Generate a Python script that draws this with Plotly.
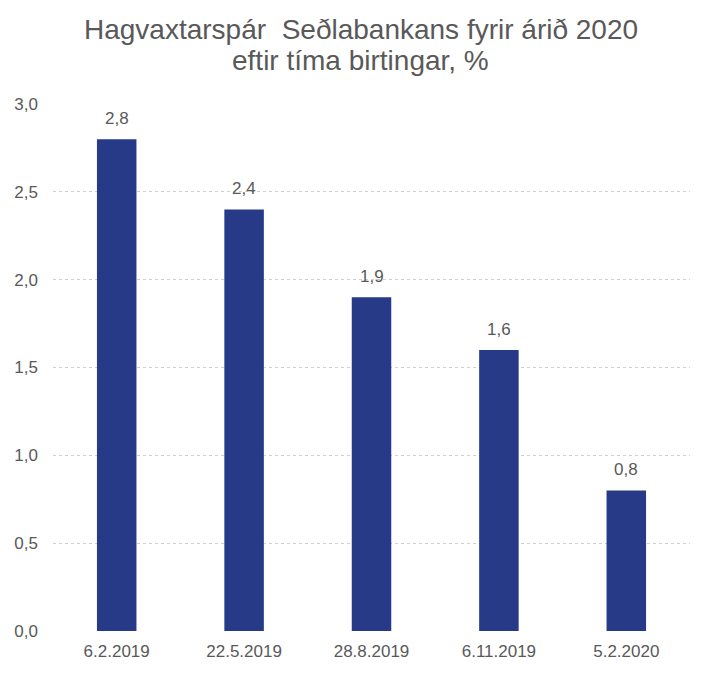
import plotly.graph_objects as go

categories = ["6.2.2019", "22.5.2019", "28.8.2019", "6.11.2019", "5.2.2020"]
values = [2.8, 2.4, 1.9, 1.6, 0.8]
labels = ["2,8", "2,4", "1,9", "1,6", "0,8"]
y_ticks = [0, 0.5, 1.0, 1.5, 2.0, 2.5, 3.0]
y_tick_text = ["0,0", "0,5", "1,0", "1,5", "2,0", "2,5", "3,0"]
title_lines = ["Hagvaxtarspár  Seðlabankans fyrir árið 2020", "eftir tíma birtingar, %"]

font = "Liberation Sans, Arial, sans-serif"
grey = "#595959"

fig = go.Figure(go.Bar(
    x=categories, y=values,
    marker=dict(color="#263a88", line=dict(width=0)),
))

annotations = []
for c, v, t in zip(categories, values, labels):
    annotations.append(dict(
        x=c, y=v, xref="x", yref="y", text=t, showarrow=False,
        yanchor="bottom", yshift=9,
        font=dict(size=17, color=grey, family=font),
    ))
for yy, line in zip([1.141, 1.082], title_lines):
    annotations.append(dict(
        x=0.483, y=yy, xref="paper", yref="paper", text=line, showarrow=False,
        xanchor="center", yanchor="middle",
        font=dict(size=28, color=grey, family=font),
    ))

fig.update_layout(
    width=713, height=674,
    margin=dict(l=45, r=31, t=96, b=51, pad=0),
    paper_bgcolor="white", plot_bgcolor="white",
    bargap=0.69,
    showlegend=False,
    annotations=annotations,
    xaxis=dict(
        showgrid=False, showline=False, zeroline=False, ticks="",
        tickfont=dict(size=17, color=grey, family=font),
        ticklabelstandoff=8, automargin=False,
    ),
    yaxis=dict(
        range=[0, 3.0], tickvals=y_ticks, ticktext=y_tick_text,
        showgrid=True, gridcolor="#cfcfcf", griddash="dot", gridwidth=1,
        zeroline=False, showline=False, ticks="",
        tickfont=dict(size=17, color=grey, family=font),
        ticklabelstandoff=14, automargin=False,
    ),
)

fig.write_html("out.html")
